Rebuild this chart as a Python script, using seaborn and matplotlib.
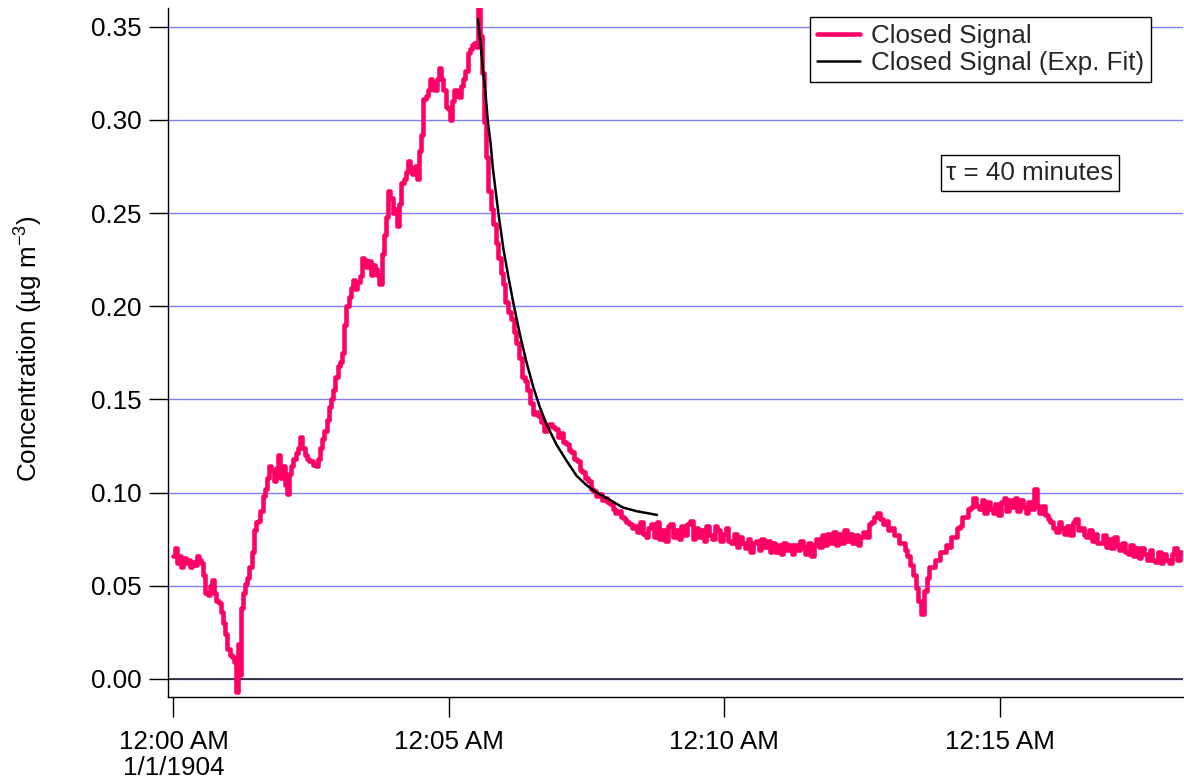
"""Closed signal concentration with exponential fit."""

import matplotlib

matplotlib.use("Agg")

import matplotlib.pyplot as plt
import pandas as pd
import seaborn as sns

# minutes after 12:00 AM, concentration in ug m-3
minutes = [
    0.00, 0.04, 0.08, 0.12, 0.16, 0.20, 0.24, 0.28, 0.32, 0.36,
    0.40, 0.44, 0.48, 0.52, 0.56, 0.60, 0.64, 0.68, 0.72, 0.76,
    0.80, 0.84, 0.88, 0.92, 0.96, 1.00, 1.04, 1.08, 1.12, 1.15,
    1.18, 1.21, 1.24, 1.28, 1.32, 1.36, 1.40, 1.44, 1.48, 1.52,
    1.56, 1.60, 1.64, 1.68, 1.72, 1.76, 1.80, 1.84, 1.88, 1.92,
    1.96, 2.00, 2.04, 2.08, 2.12, 2.16, 2.20, 2.24, 2.28, 2.32,
    2.36, 2.40, 2.44, 2.48, 2.52, 2.56, 2.60, 2.64, 2.68, 2.72,
    2.76, 2.80, 2.84, 2.88, 2.92, 2.96, 3.00, 3.04, 3.08, 3.12,
    3.16, 3.20, 3.24, 3.28, 3.32, 3.36, 3.40, 3.44, 3.48, 3.52,
    3.56, 3.60, 3.64, 3.68, 3.72, 3.76, 3.80, 3.84, 3.88, 3.92,
    3.96, 4.00, 4.04, 4.08, 4.12, 4.16, 4.20, 4.24, 4.28, 4.32,
    4.36, 4.40, 4.44, 4.48, 4.52, 4.56, 4.60, 4.64, 4.68, 4.72,
    4.76, 4.80, 4.84, 4.88, 4.92, 4.96, 5.00, 5.04, 5.08, 5.12,
    5.16, 5.20, 5.24, 5.28, 5.32, 5.36, 5.40, 5.44, 5.48, 5.52,
    5.55, 5.58, 5.62, 5.65, 5.70, 5.74, 5.78, 5.83, 5.88, 5.92,
    5.96, 6.00, 6.05, 6.10, 6.15, 6.20, 6.25, 6.30, 6.35, 6.40,
    6.45, 6.50, 6.55, 6.60, 6.65, 6.70, 6.75, 6.80, 6.85, 6.90,
    6.95, 7.00, 7.05, 7.10, 7.15, 7.20, 7.25, 7.30, 7.35, 7.40,
    7.45, 7.50, 7.55, 7.60, 7.65, 7.70, 7.75, 7.80, 7.85, 7.90,
    7.95, 8.00, 8.05, 8.10, 8.15, 8.20, 8.25, 8.30, 8.35, 8.40,
    8.45, 8.50, 8.55, 8.60, 8.65, 8.70, 8.75, 8.80, 8.85, 8.90,
    8.95, 9.00, 9.05, 9.10, 9.15, 9.20, 9.25, 9.30, 9.35, 9.40,
    9.45, 9.50, 9.55, 9.60, 9.65, 9.70, 9.75, 9.80, 9.85, 9.90,
    9.95, 10.00, 10.05, 10.10, 10.15, 10.20, 10.25, 10.30, 10.35, 10.40,
    10.45, 10.50, 10.55, 10.60, 10.65, 10.70, 10.75, 10.80, 10.85, 10.90,
    10.95, 11.00, 11.05, 11.10, 11.15, 11.20, 11.25, 11.30, 11.35, 11.40,
    11.45, 11.50, 11.55, 11.60, 11.65, 11.70, 11.75, 11.80, 11.85, 11.90,
    11.95, 12.00, 12.05, 12.10, 12.15, 12.20, 12.25, 12.30, 12.35, 12.40,
    12.45, 12.50, 12.55, 12.60, 12.65, 12.70, 12.75, 12.80, 12.85, 12.90,
    12.95, 13.00, 13.05, 13.10, 13.15, 13.20, 13.25, 13.30, 13.35, 13.40,
    13.45, 13.50, 13.55, 13.60, 13.65, 13.70, 13.75, 13.80, 13.85, 13.90,
    13.95, 14.00, 14.05, 14.10, 14.15, 14.20, 14.25, 14.30, 14.35, 14.40,
    14.45, 14.50, 14.55, 14.60, 14.65, 14.70, 14.75, 14.80, 14.85, 14.90,
    14.95, 15.00, 15.05, 15.10, 15.15, 15.20, 15.25, 15.30, 15.35, 15.40,
    15.45, 15.50, 15.55, 15.60, 15.65, 15.70, 15.75, 15.80, 15.85, 15.90,
    15.95, 16.00, 16.05, 16.10, 16.15, 16.20, 16.25, 16.30, 16.35, 16.40,
    16.45, 16.50, 16.55, 16.60, 16.65, 16.70, 16.75, 16.80, 16.85, 16.90,
    16.95, 17.00, 17.05, 17.10, 17.15, 17.20, 17.25, 17.30, 17.35, 17.40,
    17.45, 17.50, 17.55, 17.60, 17.65, 17.70, 17.75, 17.80, 17.85, 17.90,
    17.95, 18.00, 18.05, 18.10, 18.15, 18.20, 18.25, 18.30,
]
signal = [
    0.066, 0.070, 0.062, 0.066, 0.060, 0.065, 0.062, 0.064, 0.060, 0.063,
    0.061, 0.066, 0.064, 0.062, 0.056, 0.046, 0.045, 0.050, 0.053, 0.046,
    0.042, 0.041, 0.036, 0.030, 0.024, 0.016, 0.013, 0.012, 0.009, -0.007,
    0.019, 0.002, 0.038, 0.046, 0.051, 0.054, 0.060, 0.068, 0.080, 0.084,
    0.085, 0.090, 0.098, 0.102, 0.108, 0.114, 0.112, 0.106, 0.113, 0.120,
    0.108, 0.114, 0.104, 0.099, 0.110, 0.114, 0.118, 0.121, 0.124, 0.130,
    0.124, 0.120, 0.118, 0.117, 0.117, 0.115, 0.114, 0.118, 0.124, 0.129,
    0.133, 0.139, 0.146, 0.150, 0.155, 0.162, 0.168, 0.170, 0.175, 0.190,
    0.200, 0.205, 0.210, 0.214, 0.209, 0.213, 0.216, 0.226, 0.225, 0.221,
    0.224, 0.217, 0.222, 0.220, 0.217, 0.212, 0.228, 0.238, 0.248, 0.262,
    0.258, 0.250, 0.252, 0.243, 0.255, 0.266, 0.268, 0.272, 0.278, 0.274,
    0.271, 0.275, 0.268, 0.283, 0.292, 0.311, 0.313, 0.316, 0.322, 0.320,
    0.316, 0.322, 0.328, 0.322, 0.316, 0.307, 0.306, 0.300, 0.310, 0.316,
    0.313, 0.312, 0.318, 0.322, 0.326, 0.336, 0.338, 0.340, 0.341, 0.339,
    0.360, 0.345, 0.325, 0.299, 0.280, 0.262, 0.252, 0.244, 0.234, 0.226,
    0.218, 0.212, 0.202, 0.197, 0.193, 0.186, 0.180, 0.172, 0.162, 0.160,
    0.155, 0.148, 0.142, 0.143, 0.141, 0.138, 0.133, 0.136, 0.137, 0.135,
    0.134, 0.130, 0.132, 0.127, 0.126, 0.123, 0.122, 0.118, 0.117, 0.112,
    0.111, 0.108, 0.106, 0.102, 0.101, 0.098, 0.099, 0.096, 0.097, 0.095,
    0.094, 0.091, 0.089, 0.090, 0.087, 0.086, 0.084, 0.083, 0.081, 0.082,
    0.079, 0.084, 0.078, 0.076, 0.081, 0.083, 0.076, 0.084, 0.075, 0.080,
    0.074, 0.082, 0.083, 0.076, 0.080, 0.075, 0.082, 0.077, 0.083, 0.085,
    0.075, 0.081, 0.076, 0.080, 0.074, 0.082, 0.077, 0.075, 0.082, 0.080,
    0.074, 0.078, 0.081, 0.074, 0.073, 0.078, 0.071, 0.076, 0.073, 0.070,
    0.075, 0.068, 0.073, 0.074, 0.069, 0.075, 0.071, 0.074, 0.068, 0.073,
    0.068, 0.072, 0.067, 0.073, 0.069, 0.072, 0.067, 0.072, 0.069, 0.074,
    0.071, 0.067, 0.073, 0.066, 0.072, 0.075, 0.071, 0.077, 0.072, 0.078,
    0.073, 0.079, 0.072, 0.078, 0.073, 0.080, 0.074, 0.078, 0.073, 0.077,
    0.072, 0.076, 0.079, 0.076, 0.083, 0.084, 0.087, 0.089, 0.086, 0.083,
    0.085, 0.080, 0.081, 0.077, 0.077, 0.073, 0.073, 0.069, 0.066, 0.061,
    0.056, 0.049, 0.042, 0.035, 0.047, 0.054, 0.060, 0.060, 0.064, 0.064,
    0.068, 0.068, 0.072, 0.071, 0.076, 0.076, 0.081, 0.082, 0.087, 0.087,
    0.091, 0.092, 0.097, 0.093, 0.091, 0.096, 0.089, 0.095, 0.091, 0.089,
    0.094, 0.088, 0.095, 0.097, 0.090, 0.096, 0.092, 0.097, 0.090, 0.096,
    0.092, 0.089, 0.095, 0.091, 0.102, 0.093, 0.089, 0.093, 0.088, 0.086,
    0.084, 0.081, 0.079, 0.084, 0.081, 0.078, 0.082, 0.077, 0.084, 0.086,
    0.080, 0.081, 0.077, 0.076, 0.080, 0.074, 0.078, 0.073, 0.073, 0.077,
    0.071, 0.075, 0.070, 0.076, 0.072, 0.069, 0.073, 0.068, 0.067, 0.072,
    0.066, 0.070, 0.065, 0.070, 0.067, 0.064, 0.069, 0.064, 0.063, 0.068,
    0.062, 0.067, 0.064, 0.062, 0.067, 0.070, 0.064, 0.068,
]

fit_minutes = [
    5.53, 5.58, 5.62, 5.67, 5.71, 5.76, 5.80, 5.85, 5.90, 5.99,
    6.08, 6.17, 6.29, 6.41, 6.53, 6.65, 6.77, 6.95, 7.14, 7.32,
    7.50, 7.68, 7.93, 8.16, 8.41, 8.60, 8.78,
]
fit_signal = [
    0.354, 0.340, 0.327, 0.313, 0.299, 0.287, 0.274, 0.262, 0.250, 0.231,
    0.216, 0.202, 0.185, 0.170, 0.157, 0.146, 0.137, 0.126, 0.117, 0.109,
    0.104, 0.100, 0.096, 0.092, 0.090, 0.089, 0.088,
]

tick_minutes = [0, 5, 10, 15]
tick_labels = ["12:00 AM\n1/1/1904", "12:05 AM", "12:10 AM", "12:15 AM"]
y_ticks = [0.00, 0.05, 0.10, 0.15, 0.20, 0.25, 0.30, 0.35]

SIGNAL_COLOR = "#ff0066"
GRID_COLOR = "#8080ff"
FONT_SIZE = 18.7

sns.set_theme(style="white")
plt.rcParams.update(
    {
        "font.family": ["Liberation Sans", "DejaVu Sans"],
        "mathtext.fontset": "custom",
        "mathtext.rm": "Liberation Sans",
        "mathtext.it": "Liberation Sans:italic",
        "mathtext.bf": "Liberation Sans:bold",
        "axes.edgecolor": "black",
        "axes.linewidth": 1.0,
    }
)

signal_frame = pd.DataFrame({"minute": minutes, "value": signal})
fit_frame = pd.DataFrame({"minute": fit_minutes, "value": fit_signal})

fig = plt.figure(figsize=(11.84, 7.83), dpi=100)
ax = fig.add_axes([0.1423, 0.1098, 0.8568, 0.880])

sns.lineplot(
    data=signal_frame, x="minute", y="value", color=SIGNAL_COLOR,
    linewidth=3.3, drawstyle="steps-mid", label="Closed Signal", ax=ax,
)
sns.lineplot(
    data=fit_frame, x="minute", y="value", color="black",
    linewidth=1.8, label="Closed Signal (Exp. Fit)", ax=ax,
)

ax.set_xlim(-0.09, 18.33)
ax.set_ylim(-0.0097, 0.360)
ax.yaxis.grid(True, color=GRID_COLOR, linewidth=1.0)
ax.xaxis.grid(False)
ax.set_axisbelow(True)
ax.axhline(0, color="#222222", linewidth=1.2, zorder=1.5)
sns.despine(ax=ax)

ax.set_xticks(tick_minutes)
ax.set_xticklabels(tick_labels)
ax.set_yticks(y_ticks)
ax.set_yticklabels([f"{v:.2f}" for v in y_ticks])
ax.tick_params(axis="both", direction="out", width=1.0, color="black",
               labelsize=FONT_SIZE, labelcolor="black")
ax.tick_params(axis="x", bottom=True, length=14.5, pad=9)
ax.tick_params(axis="y", left=True, length=13.5, pad=6)
for lbl in ax.get_xticklabels():
    lbl.set_linespacing(1.12)

ax.set_xlabel("")
ax.set_ylabel("Concentration (µg m$^{-3}$)", fontsize=FONT_SIZE, color="black")
ax.yaxis.set_label_coords(-0.122, 0.505)

legend = ax.legend(
    loc="upper right", bbox_to_anchor=(1151 / 1184, 1 - 17 / 783),
    bbox_transform=fig.transFigure, fontsize=FONT_SIZE, frameon=True,
    fancybox=False, framealpha=1, edgecolor="black", borderpad=0.28,
    handlelength=1.65, handletextpad=0.42, labelspacing=0.1, borderaxespad=0,
)
legend.get_frame().set_linewidth(1.0)

fig.text(
    1030 / 1184, 1 - 173 / 783, "τ = 40 minutes", fontsize=FONT_SIZE,
    ha="center", va="center",
    bbox=dict(boxstyle="square,pad=0.22", facecolor="white", edgecolor="black", linewidth=1.0),
)

fig.savefig("out.png", dpi=100)
plt.close(fig)
